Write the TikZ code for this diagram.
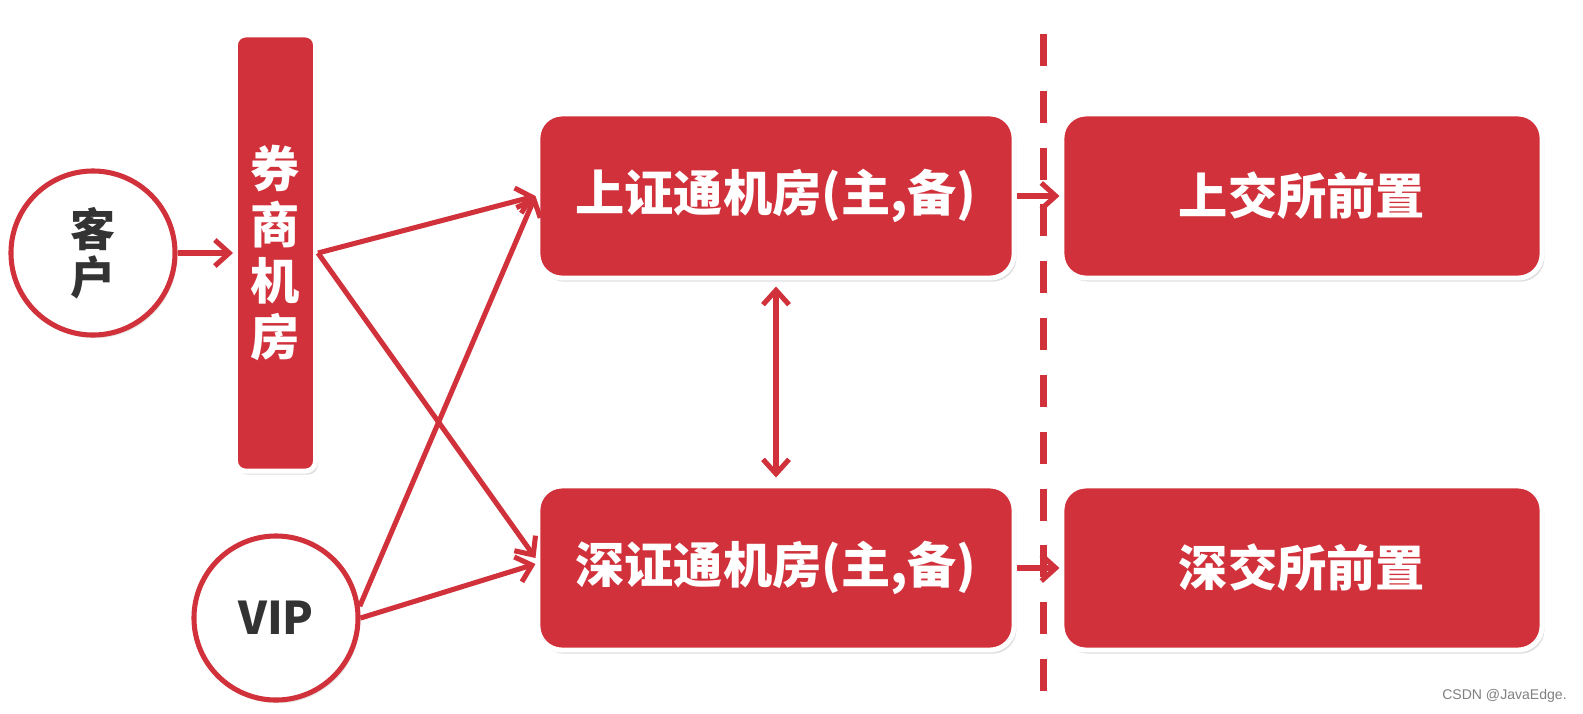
\documentclass[tikz,border=0pt]{standalone}
\usepackage{fontspec}
\setmainfont{Noto Sans CJK SC}
\newfontfamily\markfont{Liberation Sans}
\usetikzlibrary{arrows.meta,positioning,shadows}
\definecolor{hallred}{HTML}{D1313A}
\definecolor{darktext}{HTML}{333333}
\tikzset{
  hallbox/.style={draw=white, line width=3.5pt, fill=hallred, rounded corners=0.6cm,
    text=white, align=center, font=\bfseries\fontsize{35}{40}\selectfont,
    minimum width=11.9cm, minimum height=4.1cm,
    drop shadow={shadow xshift=0.6mm, shadow yshift=-0.9mm, opacity=0.25}},
  brokerbox/.style={hallbox, rounded corners=0.25cm, minimum width=2cm,
    minimum height=10.9cm, font=\bfseries\fontsize{35}{40}\selectfont},
  userdot/.style={circle, draw=hallred, line width=3.6pt, fill=white, text=darktext,
    align=center, minimum size=4.1cm, inner sep=0pt,
    font=\bfseries\fontsize{32}{34}\selectfont,
    drop shadow={shadow xshift=0.5mm, shadow yshift=-0.8mm, opacity=0.2}},
  arr/.style={-{Straight Barb[length=3.6mm, width=6.5mm]}, line width=3.6pt, draw=hallred},
  twoarr/.style={arr, {Straight Barb[length=3.6mm, width=6.5mm]}-{Straight Barb[length=3.6mm, width=6.5mm]}},
  cutline/.style={draw=hallred, line width=5pt, dash pattern=on 0.8cm off 0.62cm}
}
\begin{document}
\begin{tikzpicture}[x=0.025cm, y=-0.025cm]
  \useasboundingbox[fill=white] (0,0) rectangle (1583,713);
  % left side
  \node[userdot] (client) at (93,253) {客\\户};
  \node[brokerbox] (broker) at (275.5,253) {券\\商\\机\\房};
  \node[userdot] (vip) at (276,618) {VIP};
  % exchange halls
  \node[hallbox] (shhall) at (776,196) {上证通机房(主,备)};
  \node[hallbox] (szhall) at (776,568) {深证通机房(主,备)};
  \node[hallbox, minimum width=12cm] (shfront) at (1302,196) {上交所前置};
  \node[hallbox, minimum width=12cm] (szfront) at (1302,568) {深交所前置};
  % boundary
  \coordinate (cuttop) at (1043,34);
  \coordinate (cutbot) at (1043,694);
  \draw[cutline] (cuttop) -- (cutbot);
  \draw[arr] (client) -- (broker);
  \draw[arr] (broker.east) -- (shhall.west);
  \draw[arr] (broker.east) -- ([yshift=0.25cm]szhall.west);
  \draw[arr] (vip.8) -- (shhall.west);
  \draw[arr] (vip.east) -- ([yshift=0.1cm]szhall.west);
  \draw[twoarr] ([yshift=-0.15cm]shhall.south) -- ([yshift=0.15cm]szhall.north);
  \draw[arr] (shhall) -- (shfront);
  \draw[arr] (szhall) -- (szfront);
  \node[anchor=south east, text=gray, font=\markfont\fontsize{10}{12}\selectfont, inner sep=0pt] (mark) at (1567,703) {CSDN @JavaEdge.};
\end{tikzpicture}
\end{document}
